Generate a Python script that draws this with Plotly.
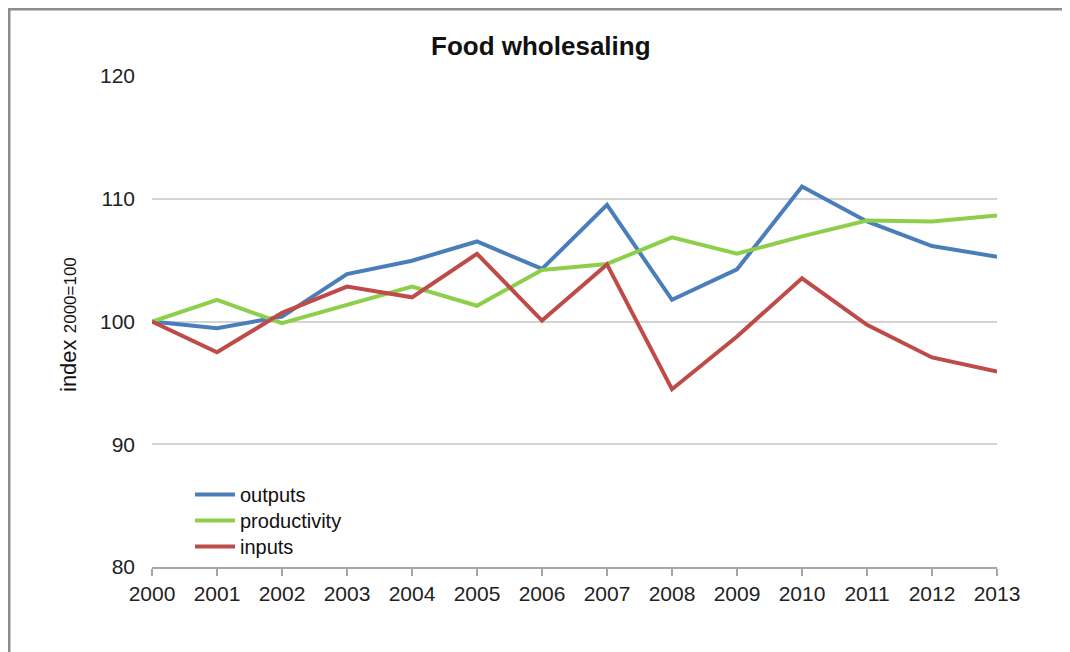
import plotly.graph_objects as go

years = list(range(2000, 2014))
outputs = [100.0, 99.46, 100.4, 103.86, 104.95, 106.52, 104.28, 109.5, 101.77, 104.25, 111.0, 108.15, 106.15, 105.28]
productivity = [100.0, 101.77, 99.87, 101.36, 102.84, 101.28, 104.2, 104.69, 106.86, 105.52, 106.93, 108.23, 108.15, 108.64]
inputs = [100.0, 97.5, 100.7, 102.84, 101.97, 105.52, 100.08, 104.65, 94.48, 98.78, 103.52, 99.73, 97.07, 95.93]

# page body has an 8px margin, so figure coords = screenshot coords - 8
OFF = 8
W, H = 1070, 652
L, T = 152 - OFF, 76 - OFF
R = W - (997 - OFF)
B = H - (567 - OFF)
pw, ph = W - L - R, H - T - B

def px(x):
    return (x - OFF - L) / pw

def py(y):
    return (H - B - (y - OFF)) / ph

FONT = "Liberation Sans, Arial, sans-serif"

fig = go.Figure()
fig.add_trace(go.Scatter(x=years, y=outputs, name="outputs", mode="lines",
                         line=dict(color="#4A7EBB", width=4), legend="legend"))
fig.add_trace(go.Scatter(x=years, y=productivity, name="productivity", mode="lines",
                         line=dict(color="#8DCF4B", width=4), legend="legend2"))
fig.add_trace(go.Scatter(x=years, y=inputs, name="inputs", mode="lines",
                         line=dict(color="#BE4B48", width=4), legend="legend3"))

def leg(top):
    return dict(x=px(190), y=py(top), xanchor="left", yanchor="top",
                font=dict(size=20, family=FONT, color="#111111"),
                bgcolor="rgba(0,0,0,0)", itemwidth=40)

fig.update_layout(
    width=W, height=H,
    margin=dict(l=L, r=R, t=T, b=B),
    paper_bgcolor="white", plot_bgcolor="white",
    font=dict(family=FONT, color="#222222", size=21),
    showlegend=True,
    legend=leg(475), legend2=leg(501), legend3=leg(527),
    xaxis=dict(range=[2000, 2013], tickmode="array", tickvals=years,
               ticktext=[str(y) for y in years], showgrid=False,
               showline=True, linecolor="#A6A6A6", linewidth=2,
               ticks="outside", ticklen=7, tickcolor="#A6A6A6", tickwidth=2,
               tickfont=dict(size=21, family=FONT, color="#222222"),
               zeroline=False),
    yaxis=dict(range=[80, 120], tickvals=[80, 90, 100, 110, 120],
               showgrid=True, gridcolor="#D4D4D4", gridwidth=2,
               showline=False, zeroline=False, ticks="",
               ticklabelstandoff=16,
               tickfont=dict(size=21, family=FONT, color="#222222")),
    shapes=[
        dict(type="line", xref="paper", yref="paper", x0=px(8), x1=px(W + 8), y0=py(9), y1=py(9),
             line=dict(color="#8C8C8C", width=3)),
        dict(type="line", xref="paper", yref="paper", x0=px(9), x1=px(9), y0=py(9), y1=py(H + 8),
             line=dict(color="#8C8C8C", width=3)),
    ],
    annotations=[
        dict(text="<b>Food wholesaling</b>", xref="paper", yref="paper",
             x=px(541), y=py(46), xanchor="center", yanchor="middle",
             showarrow=False, font=dict(size=26, family=FONT, color="#111111")),
        dict(text="index <span style='font-size:17px'>2000=100</span>", xref="paper", yref="paper",
             x=px(68), y=py(325), xanchor="center", yanchor="middle", textangle=-90,
             showarrow=False, font=dict(size=22, family=FONT, color="#111111")),
    ],
)

fig.write_html("out.html")
